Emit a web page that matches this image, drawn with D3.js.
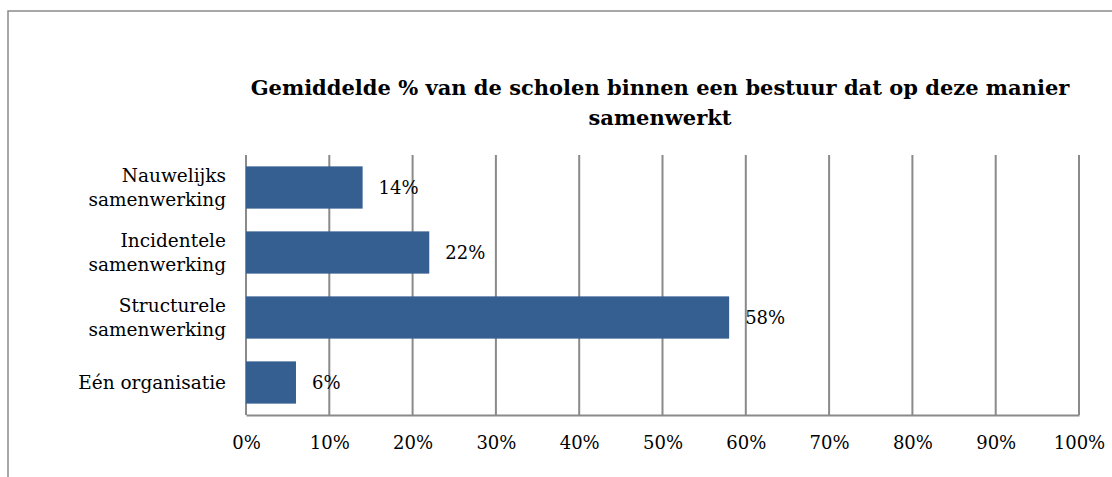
<!DOCTYPE html>
<html>
<head>
<meta charset="utf-8">
<script src="https://cdn.jsdelivr.net/npm/d3@7"></script>
<style>
  body { margin: 0; background: #fff; }
  text { font-family: "DejaVu Serif", "Liberation Serif", serif; fill: #000; }
</style>
</head>
<body>
<svg id="chart" width="1112" height="477"></svg>
<script>
// data, top to bottom
var categories = [["Nauwelijks", "samenwerking"], ["Incidentele", "samenwerking"], ["Structurele", "samenwerking"], ["Eén organisatie"]];
var values = [14, 22, 58, 6];
var tickValues = [0, 10, 20, 30, 40, 50, 60, 70, 80, 90, 100];
var titleLines = ["Gemiddelde % van de scholen binnen een bestuur dat op deze manier", "samenwerkt"];

var svg = d3.select("#chart");
var gridColor = "#8a8a8a";
var barColor = "#365f91";

// outer chart border (only top + left visible)
svg.append("rect")
    .attr("x", 8).attr("y", 11)
    .attr("width", 1200).attr("height", 600)
    .attr("fill", "none")
    .attr("stroke", gridColor)
    .attr("stroke-width", 1.5);

var x = d3.scaleLinear().domain([0, 100]).range([246, 1079]);
var y = d3.scaleBand().domain(d3.range(values.length)).range([155, 415]).paddingInner(0.35).paddingOuter(0.175);

// gridlines
svg.selectAll(".grid")
    .data(tickValues)
    .enter().append("line")
    .attr("x1", d => x(d)).attr("x2", d => x(d))
    .attr("y1", 155).attr("y2", 415)
    .attr("stroke", gridColor)
    .attr("stroke-width", 2);

// bars
svg.selectAll(".bar")
    .data(values)
    .enter().append("rect")
    .attr("x", x(0))
    .attr("y", (d, i) => y(i))
    .attr("width", d => x(d) - x(0))
    .attr("height", y.bandwidth())
    .attr("fill", barColor);

// bottom axis
var xAxis = svg.append("g")
    .attr("transform", "translate(0,415)")
    .call(d3.axisBottom(x).tickValues(tickValues).tickSize(0).tickPadding(21).tickFormat(d => d + "%"));
xAxis.select(".domain").attr("stroke", gridColor).attr("stroke-width", 2);
xAxis.selectAll("text")
    .attr("font-size", 18)
    .attr("font-family", "DejaVu Serif")
    .attr("fill", "#000");

// value labels
svg.selectAll(".val")
    .data(values)
    .enter().append("text")
    .attr("x", d => x(d) + 16)
    .attr("y", (d, i) => y(i) + y.bandwidth() / 2)
    .attr("dy", "0.35em")
    .attr("font-size", 18)
    .text(d => d + "%");

// category labels
categories.forEach((lines, i) => {
    var cy = y(i) + y.bandwidth() / 2;
    var t = svg.append("text")
        .attr("text-anchor", "end")
        .attr("font-size", 18.5);
    lines.forEach((ln, j) => {
        t.append("tspan")
            .attr("x", 226)
            .attr("y", cy + (j - (lines.length - 1) / 2) * 24)
            .attr("dy", "0.35em")
            .text(ln);
    });
});

// title
titleLines.forEach((ln, j) => {
    svg.append("text")
        .attr("x", 660)
        .attr("y", 95 + j * 30)
        .attr("text-anchor", "middle")
        .attr("font-size", 21)
        .attr("font-weight", "bold")
        .text(ln);
});
</script>
</body>
</html>
